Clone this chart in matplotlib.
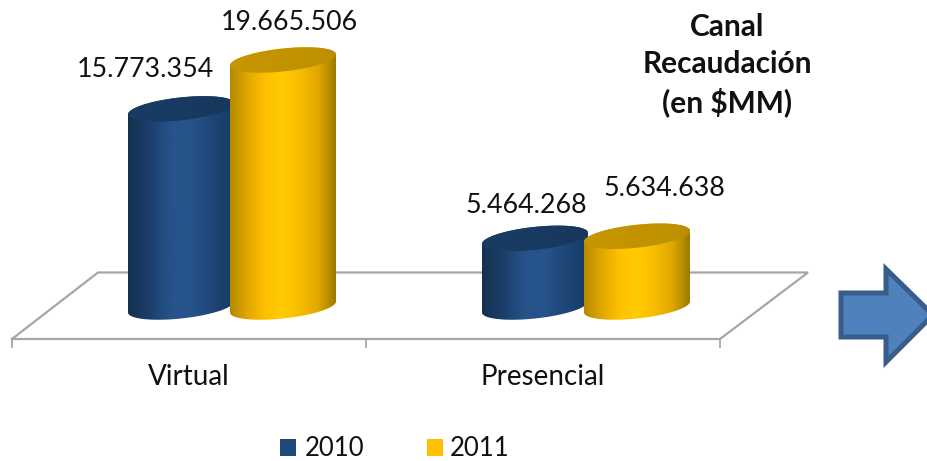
import matplotlib
matplotlib.use('Agg')
import matplotlib.pyplot as plt
import numpy as np
from matplotlib.colors import LinearSegmentedColormap
from matplotlib.patches import Polygon, Rectangle

plt.rcParams['font.family'] = ['Lato', 'DejaVu Sans']

categories = ['Virtual', 'Presencial']
years = ['2010', '2011']
v2010 = [15773354, 5464268]
v2011 = [19665506, 5634638]
labels2010 = ['15.773.354', '5.464.268']
labels2011 = ['19.665.506', '5.634.638']

W, H = 928, 461
fig = plt.figure(figsize=(W / 100, H / 100), dpi=100)

# pixel layer for the floor, arrow and loose text
bg = fig.add_axes([0, 0, 1, 1], zorder=1)
bg.set_xlim(0, W)
bg.set_ylim(H, 0)
bg.axis('off')

# chart layer: x in category units (354 px each, starting at px 12), y in pesos
PX_X = 354.0
PX_Y = 12.56 / 1e6
Y0 = 307.0
ax = fig.add_axes([0, 0, 1, 1], zorder=2)
ax.set_xlim(-12 / PX_X, (W - 12) / PX_X)
ax.set_ylim(-(H - Y0) / PX_Y, Y0 / PX_Y)
ax.axis('off')
ax.patch.set_alpha(0)

grey = '#a6a6a6'
bg.plot([12, 720, 808, 98, 12], [339, 339, 272.5, 272.5, 339], color=grey, lw=1.6, solid_joinstyle='miter')
for t in [12, 366, 720]:
    bg.plot([t, t], [339, 347], color=grey, lw=1.3)

blue_cm = LinearSegmentedColormap.from_list('b', ['#14304f', '#1b3f6b', '#25538a', '#25538a', '#1d4576', '#173a60'])
gold_cm = LinearSegmentedColormap.from_list('g', ['#b58a00', '#e0a800', '#ffc000', '#ffcc00', '#f7bc00', '#e0a800', '#9c7a00'])
blue_top = LinearSegmentedColormap.from_list('bt', ['#1a3c64', '#17375e'])
gold_top = LinearSegmentedColormap.from_list('gt', ['#c79600', '#bd8f00'])

HALF_W = 53 / PX_X
TILT = 5.5 / PX_Y
SEMI = 11.5 / PX_Y


def rim(cx, y, t):
    return cx + HALF_W * np.cos(t), y + SEMI * np.sin(t) + TILT * np.cos(t)


def shaded(poly, cm, x0, x1, y0, y1, z):
    patch = Polygon(poly, closed=True, fc='none', ec='none', zorder=z)
    ax.add_patch(patch)
    grad = np.linspace(0, 1, 256).reshape(1, -1)
    im = ax.imshow(grad, cmap=cm, extent=[x0, x1, y0, y1], aspect='auto', zorder=z, interpolation='bilinear')
    im.set_clip_path(patch)


def cylinder(cx, value, cm, top_cm, z):
    low = np.linspace(np.pi, 2 * np.pi, 60)
    up = np.linspace(0, np.pi, 60)
    bx, by = rim(cx, 0, low)
    tx, ty = rim(cx, value, up)
    body = np.column_stack([np.r_[bx, tx], np.r_[by, ty]])
    shaded(body, cm, cx - HALF_W, cx + HALF_W, -SEMI * 2, value + SEMI * 2, z)
    full = np.linspace(0, 2 * np.pi, 120)
    ex, ey = rim(cx, value, full)
    shaded(np.column_stack([ex, ey]), top_cm, cx - HALF_W, cx + HALF_W, value - SEMI * 2, value + SEMI * 2, z + 0.1)


x = np.arange(len(categories))
# bars sit right of the category centre because of the 3D depth
pos2010 = x + 0.5 - 8 / PX_X
pos2011 = pos2010 + 102 / PX_X
for i in range(len(categories)):
    cylinder(pos2010[i], v2010[i], blue_cm, blue_top, 3 + i)
    cylinder(pos2011[i], v2011[i], gold_cm, gold_top, 3.5 + i)

ax.set_xlim(-12 / PX_X, (W - 12) / PX_X)
ax.set_ylim(-(H - Y0) / PX_Y, Y0 / PX_Y)

FS = 19.3
# label nudges, px in x and pesos in y
dx2010, dy2010 = [-36, -9], [3.15e6, 2.6e6]
dx2011, dy2011 = [6, 27], [2.98e6, 3.8e6]
for i in range(len(categories)):
    ax.text(pos2010[i] + dx2010[i] / PX_X, v2010[i] + dy2010[i], labels2010[i], ha='center', va='center', fontsize=FS, color='#111111', zorder=9)
    ax.text(pos2011[i] + dx2011[i] / PX_X, v2011[i] + dy2011[i], labels2011[i], ha='center', va='center', fontsize=FS, color='#111111', zorder=9)
    ax.text(x[i] + 0.5, -5.55e6, categories[i], ha='center', va='center', fontsize=20, color='#111111', zorder=9)

for s, yy in zip(['Canal', 'Recaudación', '(en $MM)'], [36, 73, 112]):
    bg.text(727, yy, s, ha='center', va='baseline', fontsize=21.5, fontweight='bold', color='#111111')

# legend
bg.add_patch(Rectangle((280, 439), 16, 17, fc='#1f497d', ec='none'))
bg.add_patch(Rectangle((427, 439), 16, 17, fc='#ffc000', ec='none'))
bg.text(305, 456, years[0], ha='left', va='baseline', fontsize=18.5, color='#111111')
bg.text(450, 456, years[1], ha='left', va='baseline', fontsize=18.5, color='#111111')

# arrow, runs off the right edge
bg.add_patch(Polygon([(841, 293), (886, 293), (886, 269), (933, 315), (886, 362), (886, 337), (841, 337)],
                     closed=True, fc='#4f81bd', ec='#385d8a', lw=3.6, joinstyle='miter'))

fig.savefig('out.png', dpi=100, facecolor='white')
